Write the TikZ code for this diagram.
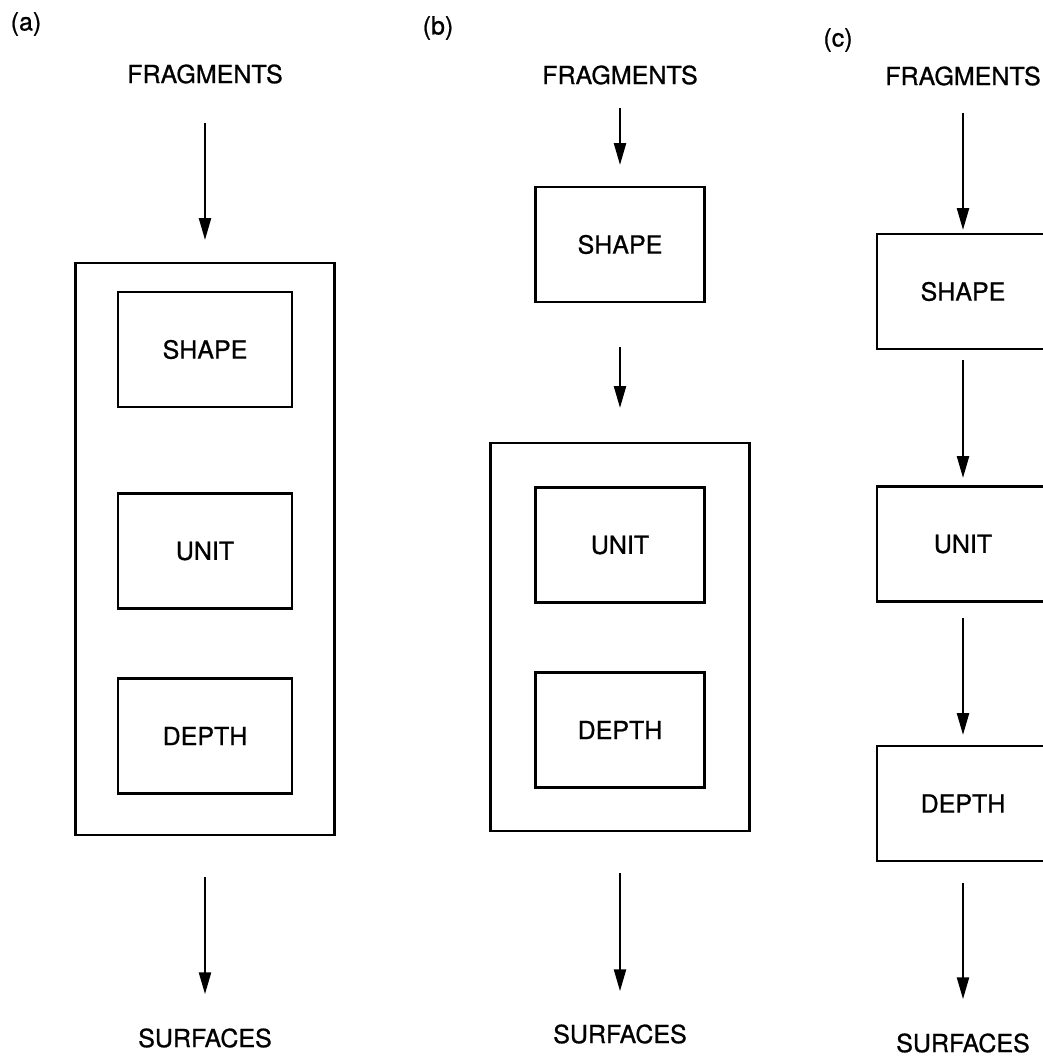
\documentclass[tikz,border=0pt]{standalone}
\usepackage{fontspec}
\setmainfont[FakeBold=0.8]{TeX Gyre Heros}
\usetikzlibrary{arrows.meta}

\begin{document}
\begin{tikzpicture}[
  x=1pt, y=-1pt,
  lbl/.style={inner sep=0pt, font=\fontsize{25}{30}\selectfont},
  stagebox/.style={draw, line width=2.8pt, outer sep=0pt, minimum width=174pt,
                   minimum height=115pt, lbl},
  groupbox/.style={draw, line width=2.8pt, outer sep=0pt, minimum width=259pt},
  arr/.style={-{Triangle[length=22pt,width=12pt]}, line width=2.4pt}
]
\useasboundingbox (0,0) rectangle (1043,1058);
\clip (0,0) rectangle (1043,1058);

% (a) all three inside one box
\node[lbl] (tagA) at (26,24) {(a)};
\node[lbl] (fragA) at (205,74) {FRAGMENTS};
\node[groupbox, minimum height=572pt] (outerA) at (205,549) {};
\node[stagebox] (shapeA) at (205,349.5) {SHAPE};
\node[stagebox] (unitA) at (205,551) {UNIT};
\node[stagebox] (depthA) at (205,736) {DEPTH};
\node[lbl] (surfA) at (205,1038) {SURFACES};

\draw[arr, shorten <=39pt, shorten >=23pt] (fragA) -- (outerA);
\draw[arr, shorten <=42pt, shorten >=34pt] (outerA) -- (surfA);

% (b) shape first, then unit+depth together
\node[lbl] (tagB) at (438,28) {(b)};
\node[lbl] (fragB) at (620,75) {FRAGMENTS};
\node[stagebox, minimum width=169pt] (shapeB) at (620,244.5) {SHAPE};
\node[groupbox, minimum height=388pt] (outerB) at (620,637) {};
\node[stagebox, minimum width=169pt] (unitB) at (620,545) {UNIT};
\node[stagebox, minimum width=169pt] (depthB) at (620,730) {DEPTH};
\node[lbl] (surfB) at (620,1034) {SURFACES};

\draw[arr, shorten <=23pt, shorten >=22pt] (fragB) -- (shapeB);
\draw[arr, shorten <=45pt, shorten >=35pt] (shapeB) -- (outerB);
\draw[arr, shorten <=42pt, shorten >=33pt] (outerB) -- (surfB);

% (c) one after the other
\node[lbl] (tagC) at (838,40) {(c)};
\node[lbl] (fragC) at (963,76) {FRAGMENTS};
\node[stagebox, minimum width=172pt] (shapeC) at (963,291.5) {SHAPE};
\node[stagebox, minimum width=172pt] (unitC) at (963,544) {UNIT};
\node[stagebox, minimum width=172pt] (depthC) at (963,803.5) {DEPTH};
\node[lbl] (surfC) at (963,1043) {SURFACES};

\draw[arr, shorten <=27pt, shorten >=4pt] (fragC) -- (shapeC);
\draw[arr, shorten <=11pt, shorten >=8.5pt] (shapeC) -- (unitC);
\draw[arr, shorten <=16.5pt, shorten >=11pt] (unitC) -- (depthC);
\draw[arr, shorten <=22pt, shorten >=34pt] (depthC) -- (surfC);
\end{tikzpicture}
\end{document}
